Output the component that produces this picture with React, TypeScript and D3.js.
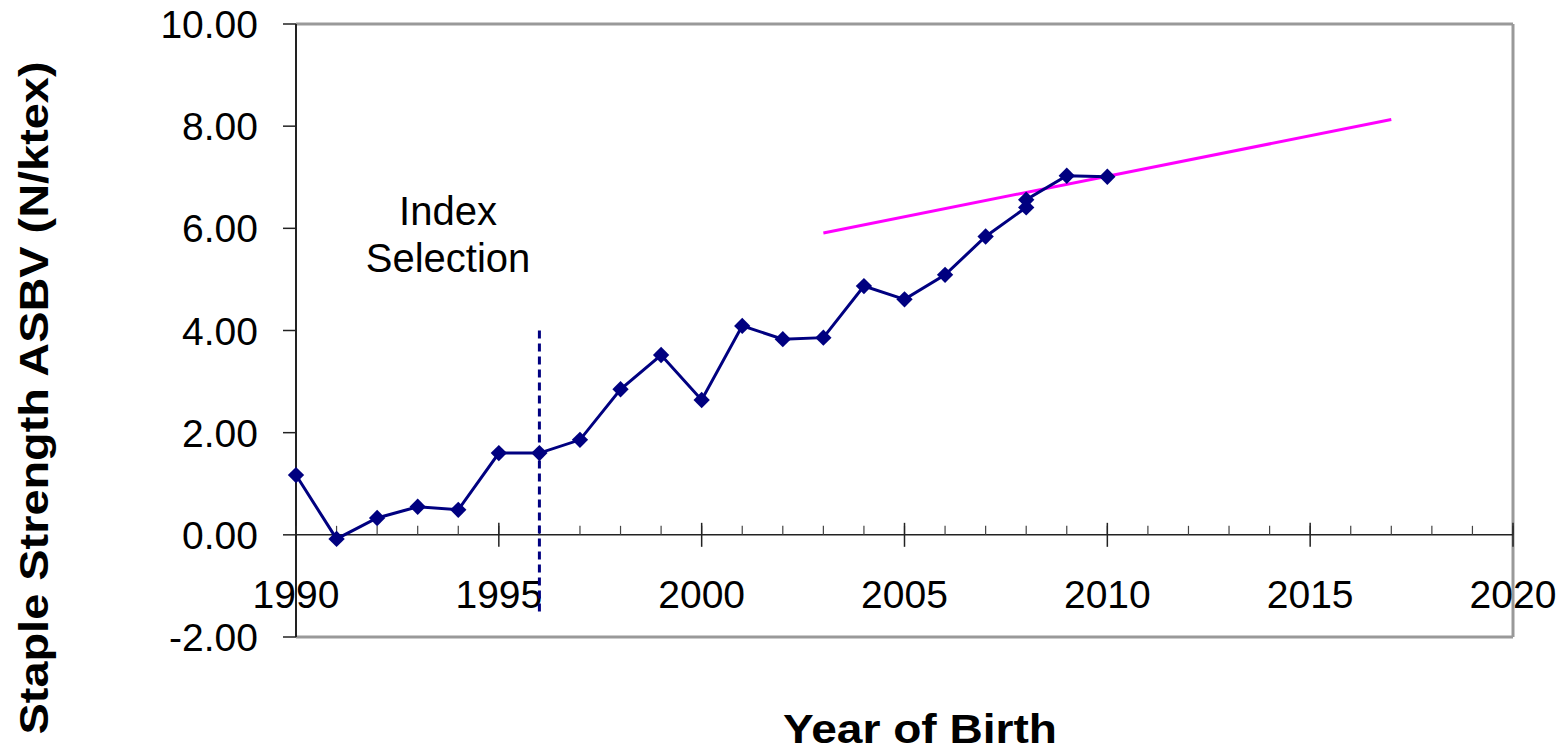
import React from "react";
import * as d3 from "d3";

const years = [1990, 1991, 1992, 1993, 1994, 1995, 1996, 1997, 1998, 1999, 2000, 2001, 2002, 2003, 2004, 2005, 2006, 2007, 2008, 2008, 2009, 2010];
const values = [1.17, -0.08, 0.33, 0.55, 0.49, 1.6, 1.6, 1.86, 2.85, 3.52, 2.64, 4.09, 3.83, 3.86, 4.87, 4.61, 5.09, 5.84, 6.41, 6.56, 7.03, 7.01];
const trendYears = [2003, 2017];
const trendValues = [5.91, 8.13];
const indexYear = 1996;
const indexRange = [4.0, -1.5];
const yTicks = [-2, 0, 2, 4, 6, 8, 10];
const xMajorTicks = [1990, 1995, 2000, 2005, 2010, 2015, 2020];
const xMinorTicks = d3.range(1990, 2021);

const W = 1565;
const H = 754;
const FONT = "Liberation Sans, Arial, sans-serif";

export default function App() {
  const x = d3.scaleLinear().domain([1990, 2020]).range([296, 1513]);
  const y = d3.scaleLinear().domain([-2, 10]).range([637, 24]);
  const pts = years.map((yr, i) => [yr, values[i]] as [number, number]);
  const line = d3.line<[number, number]>().x((d) => x(d[0])).y((d) => y(d[1]));
  const trend = trendYears.map((yr, i) => [yr, trendValues[i]] as [number, number]);
  const diamond = d3.symbol().type(d3.symbolDiamond2).size(170)();

  return (
    <svg width={W} height={H} style={{ position: "absolute", left: 0, top: 0, background: "#fff" }} fontFamily={FONT}>
      <rect x={0} y={0} width={W} height={H} fill="#fff" />
      {/* plot frame */}
      <line x1={x(1990)} x2={x(2020)} y1={y(10)} y2={y(10)} stroke="#999" strokeWidth={3} />
      <line x1={x(2020)} x2={x(2020)} y1={y(10)} y2={y(-2)} stroke="#999" strokeWidth={3} />
      <line x1={x(1990)} x2={x(2020)} y1={y(-2)} y2={y(-2)} stroke="#999" strokeWidth={3} />
      {/* y axis */}
      <line x1={x(1990)} x2={x(1990)} y1={y(10)} y2={y(-2)} stroke="#222" strokeWidth={2} />
      {yTicks.map((t) => (
        <g key={"yt" + t}>
          <line x1={x(1990) - 13} x2={x(1990)} y1={y(t)} y2={y(t)} stroke="#222" strokeWidth={1.5} />
          <text x={258} y={y(t) + 14} textAnchor="end" fontSize={39} fill="#000">
            {t.toFixed(2)}
          </text>
        </g>
      ))}
      {/* x axis at zero */}
      <line x1={x(1990)} x2={x(2020)} y1={y(0)} y2={y(0)} stroke="#222" strokeWidth={1.5} />
      {xMinorTicks.map((t) => (
        <line key={"xm" + t} x1={x(t)} x2={x(t)} y1={y(0) - 9} y2={y(0)} stroke="#444" strokeWidth={1.2} />
      ))}
      {xMajorTicks.map((t) => (
        <g key={"xt" + t}>
          <line x1={x(t)} x2={x(t)} y1={y(0) - 12} y2={y(0) + 12} stroke="#222" strokeWidth={1.5} />
          <text x={x(t)} y={608} textAnchor="middle" fontSize={39} fill="#000">
            {t}
          </text>
        </g>
      ))}
      {/* index selection line */}
      <line
        x1={x(indexYear)}
        x2={x(indexYear)}
        y1={y(indexRange[0])}
        y2={y(indexRange[1])}
        stroke="#000080"
        strokeWidth={3}
        strokeDasharray="8 5"
      />
      <text x={448} y={225} textAnchor="middle" fontSize={40} fill="#000">Index</text>
      <text x={448} y={272} textAnchor="middle" fontSize={40} fill="#000">Selection</text>
      {/* trend */}
      <path d={line(trend) || ""} fill="none" stroke="#ff00ff" strokeWidth={3} />
      {/* data */}
      <path d={line(pts) || ""} fill="none" stroke="#000080" strokeWidth={3} />
      {pts.map((p, i) => (
        <path key={"p" + i} d={diamond || ""} transform={`translate(${x(p[0])},${y(p[1])})`} fill="#000080" />
      ))}
      {/* titles */}
      <text
        x={920}
        y={743}
        textAnchor="middle"
        fontSize={40}
        fontWeight="bold"
        textLength={274}
        lengthAdjust="spacingAndGlyphs"
        fill="#000"
      >
        Year of Birth
      </text>
      <text
        transform="translate(48,398) rotate(-90)"
        x={0}
        y={0}
        textAnchor="middle"
        fontSize={40}
        fontWeight="bold"
        textLength={673}
        lengthAdjust="spacingAndGlyphs"
        fill="#000"
      >
        Staple Strength ASBV (N/ktex)
      </text>
    </svg>
  );
}
